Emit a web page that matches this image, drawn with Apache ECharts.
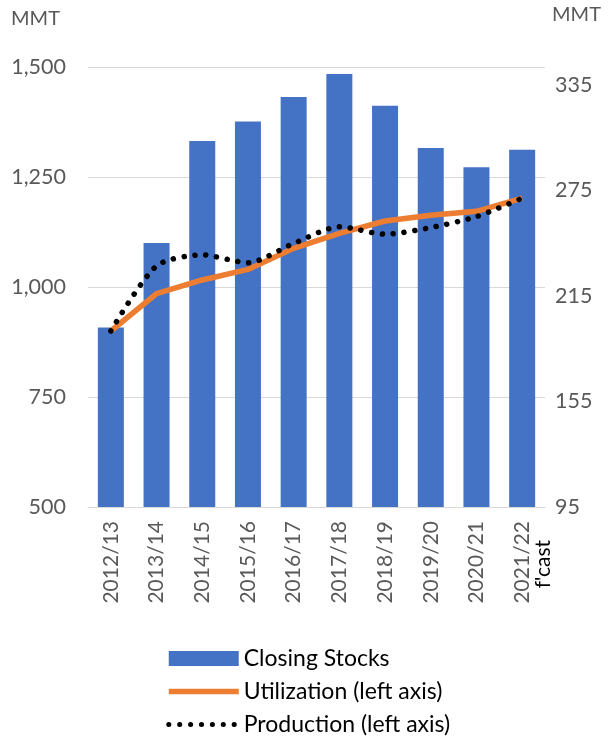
<!DOCTYPE html>
<html>
<head>
<meta charset="utf-8">
<script src="https://cdn.jsdelivr.net/npm/echarts@6/dist/echarts.min.js"></script>
<style>
  html, body { margin: 0; padding: 0; background: #fff; }
  #main { width: 611px; height: 741px; }
</style>
</head>
<body>
<div id="main"></div>
<script>
const years = ['2012/13', '2013/14', '2014/15', '2015/16', '2016/17', '2017/18', '2018/19', '2019/20', '2020/21', '2021/22'];
const closingStocks = [197, 245, 303, 314, 328, 341, 323, 299, 288, 298];
const utilization = [900, 985, 1016, 1040, 1088, 1122, 1150, 1163, 1172, 1202];
const production = [900, 1048, 1073, 1055, 1099, 1137, 1120, 1135, 1160, 1202];
const leftTicks = { min: 500, max: 1500, interval: 250 };
const rightTicks = { min: 95, max: 345, interval: 60 };

const font = 'Lato, "Open Sans", sans-serif';
const chart = echarts.init(document.getElementById('main'));
chart.setOption({
  animation: false,
  textStyle: { fontFamily: font },
  grid: { left: 88, right: 66, top: 67, bottom: 234 },
  legend: {
    orient: 'vertical',
    left: 166,
    top: 646,
    padding: 0,
    itemGap: 8,
    itemWidth: 70,
    itemHeight: 15,
    textStyle: { fontSize: 23, lineHeight: 25, color: '#000', fontFamily: font },
    data: [
      { name: 'Closing Stocks', icon: 'rect' },
      { name: 'Utilization (left axis)', itemStyle: { opacity: 0 }, lineStyle: { width: 5.5 } },
      { name: 'Production (left axis)', itemStyle: { opacity: 0 }, lineStyle: { width: 5, type: [0.1, 10.8], cap: 'round' } }
    ]
  },
  xAxis: {
    type: 'category',
    data: years,
    axisTick: { show: false },
    axisLine: { lineStyle: { color: '#d9d9d9', width: 1 } },
    axisLabel: { rotate: 90, fontSize: 21, color: '#595959', margin: 14, fontFamily: font }
  },
  yAxis: [
    {
      type: 'value',
      min: leftTicks.min, max: leftTicks.max, interval: leftTicks.interval,
      name: 'MMT',
      nameLocation: 'end',
      nameGap: 38,
      nameTextStyle: { fontSize: 20, color: '#595959', align: 'right', padding: [0, 28, 0, 0] },
      axisLabel: { fontSize: 21.5, color: '#595959', margin: 22, formatter: v => v.toLocaleString('en-US') },
      splitLine: { lineStyle: { color: '#d9d9d9', width: 1 } },
      axisLine: { show: false },
      axisTick: { show: false }
    },
    {
      type: 'value',
      min: rightTicks.min, max: rightTicks.max, interval: rightTicks.interval,
      name: 'MMT',
      nameLocation: 'end',
      nameGap: 42,
      nameTextStyle: { fontSize: 20, color: '#595959', align: 'left', padding: [0, 0, 0, 7] },
      axisLabel: { fontSize: 21.5, color: '#595959', margin: 10, showMaxLabel: false },
      splitLine: { show: false },
      axisLine: { show: false },
      axisTick: { show: false }
    }
  ],
  series: [
    {
      name: 'Closing Stocks',
      type: 'bar',
      yAxisIndex: 1,
      data: closingStocks,
      barWidth: 26,
      itemStyle: { color: '#4472C4' }
    },
    {
      name: 'Utilization (left axis)',
      type: 'line',
      yAxisIndex: 0,
      data: utilization,
      symbol: 'none',
      lineStyle: { color: '#ED7D31', width: 5.5 },
      itemStyle: { color: '#ED7D31' }
    },
    {
      name: 'Production (left axis)',
      type: 'line',
      yAxisIndex: 0,
      data: production,
      symbol: 'none',
      smooth: 0.25,
      lineStyle: { color: '#000', width: 5.5, type: [0.1, 10.8], cap: 'round' },
      itemStyle: { color: '#000' }
    }
  ],
  graphic: [
    {
      type: 'text',
      left: 533, top: 540,
      rotation: Math.PI / 2,
      style: { text: "f'cast", fill: '#000', font: '21px ' + font }
    }
  ]
});
</script>
</body>
</html>
